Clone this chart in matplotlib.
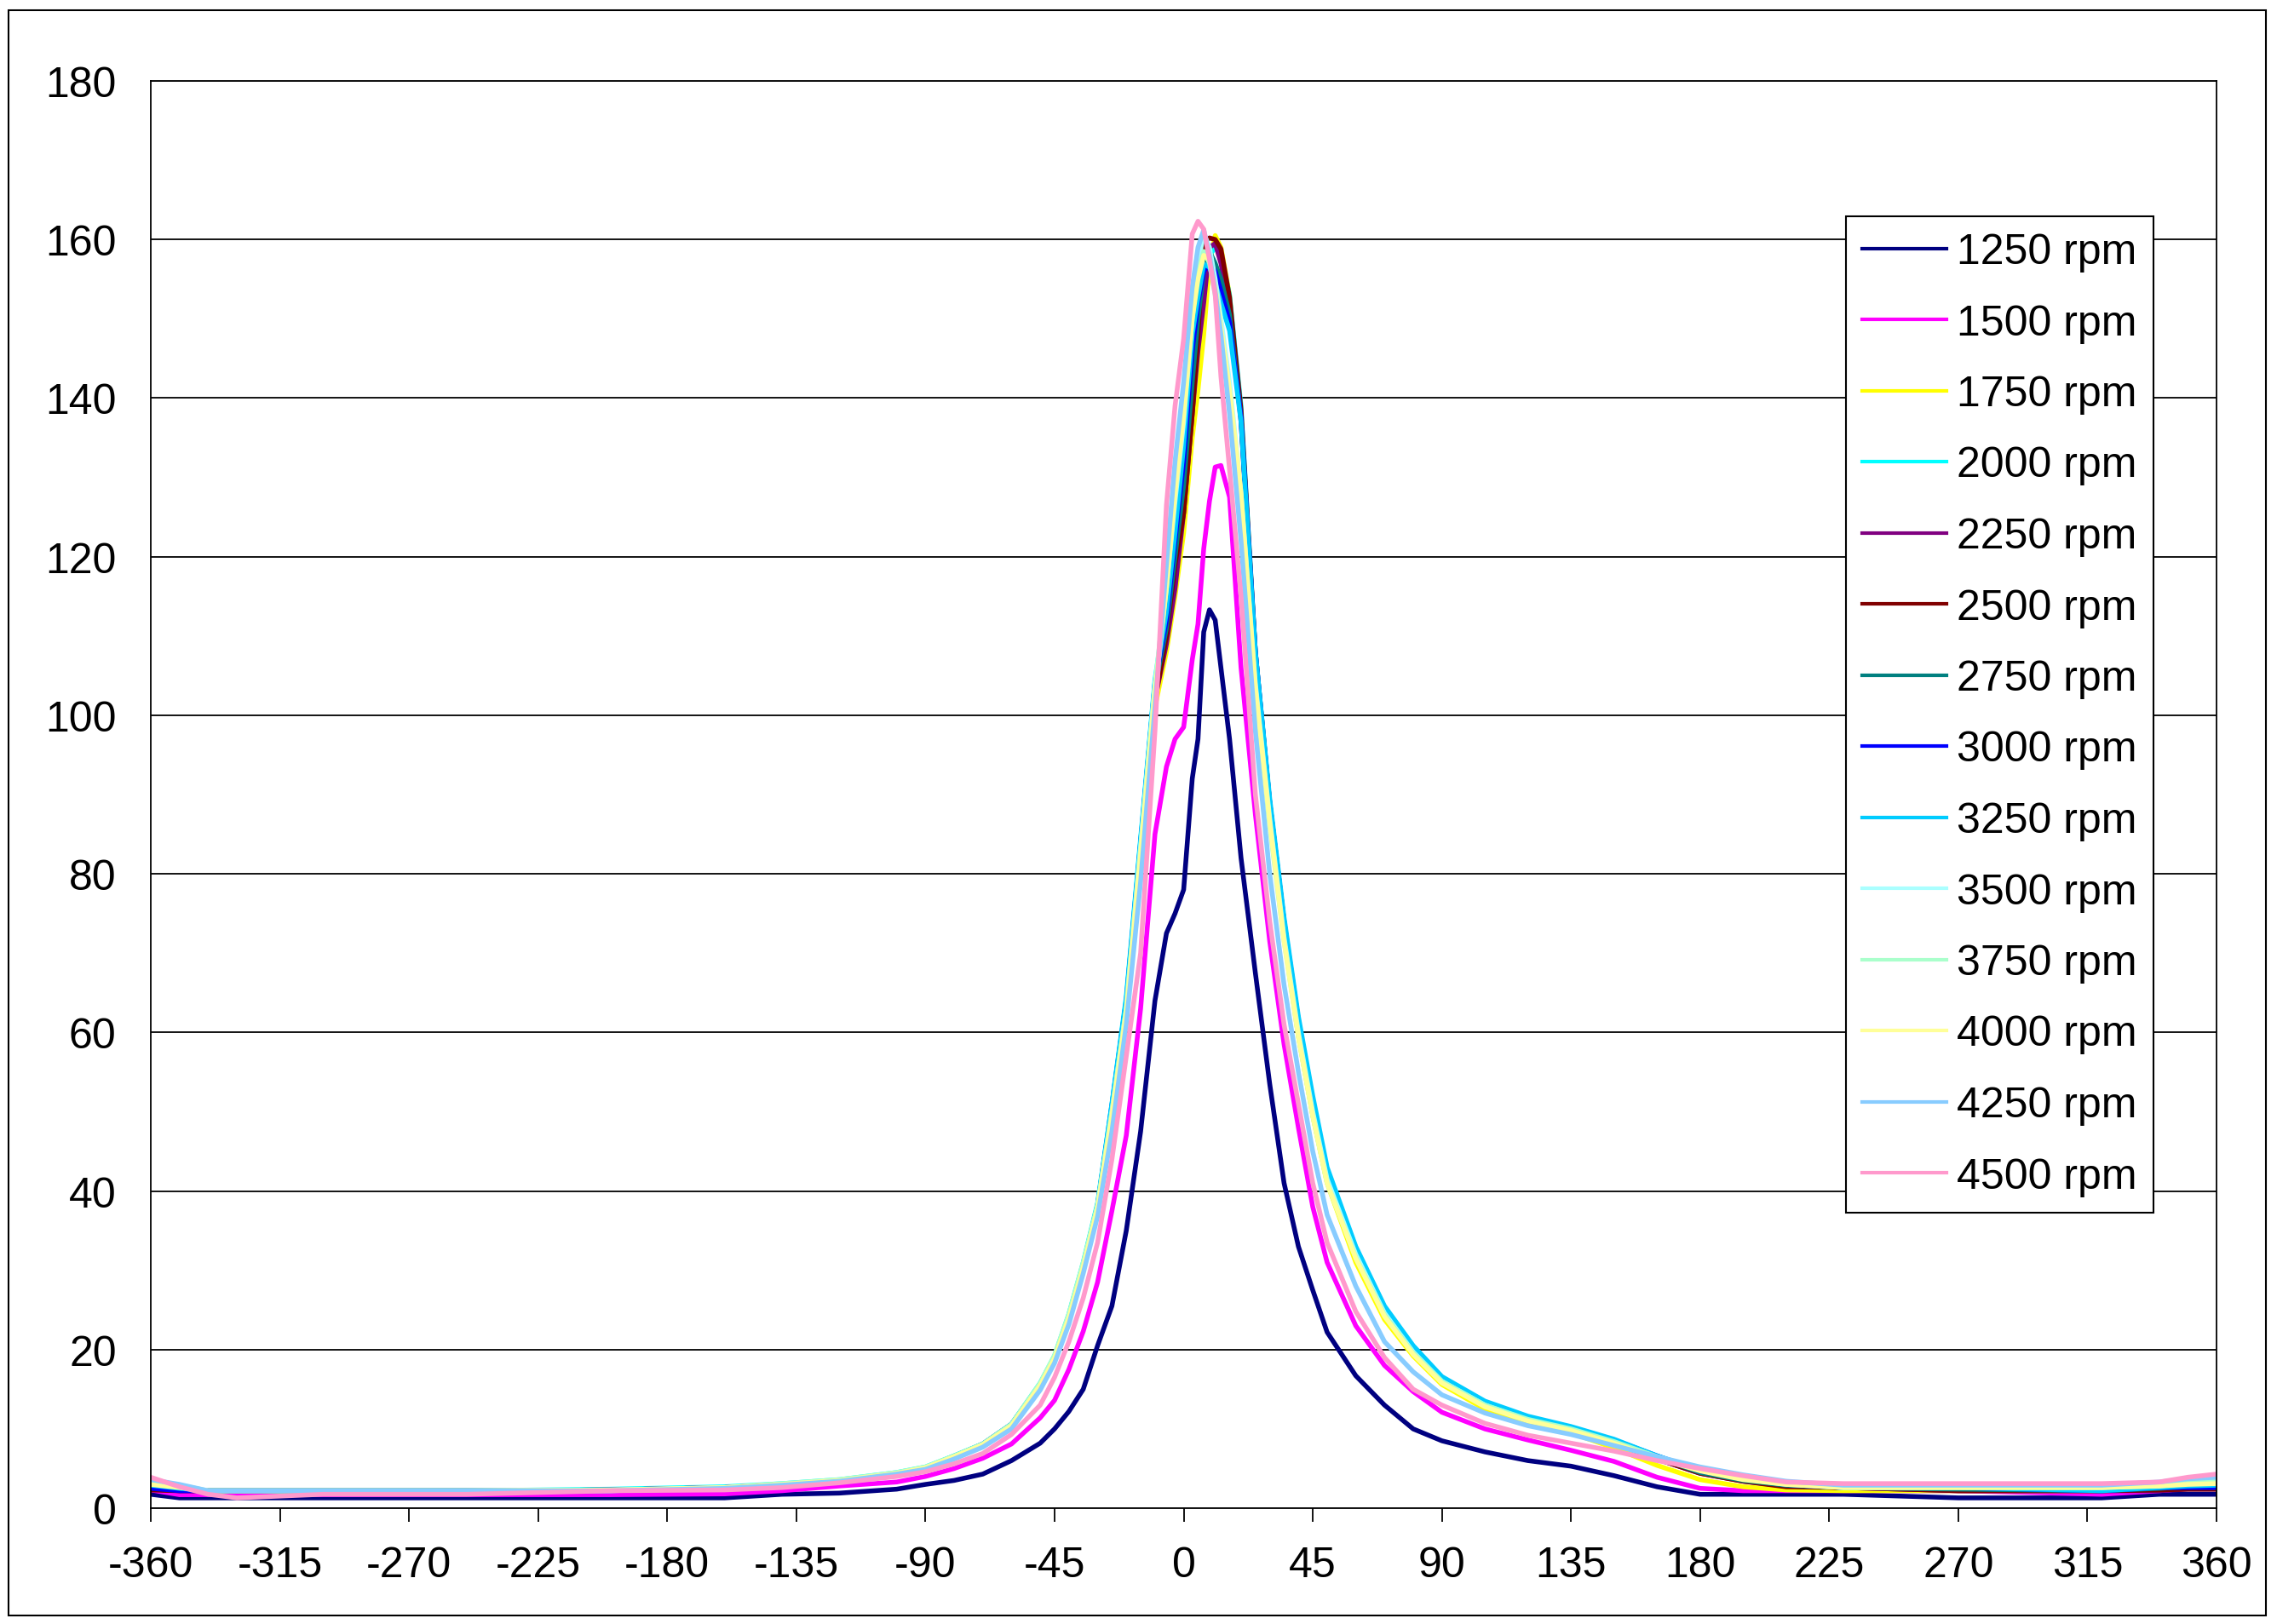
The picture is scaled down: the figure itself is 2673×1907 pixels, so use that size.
import matplotlib
matplotlib.use("Agg")
import matplotlib.pyplot as plt
from matplotlib.patches import Rectangle

plt.rcParams['font.family'] = ['Liberation Sans', 'DejaVu Sans']
plt.rcParams['axes.unicode_minus'] = False

# ---------------- data ----------------
angle_deg = [-360, -350, -340, -330, -300, -250, -200, -160, -140, -120,
             -100, -90, -80, -70, -60, -50, -45, -40, -35, -30,
             -25, -20, -15, -10, -6, -3, 0, 3, 5, 7,
             9, 11, 13, 16, 20, 25, 30, 35, 40, 45,
             50, 60, 70, 80, 90, 105, 120, 135, 150, 165,
             180, 195, 210, 230, 270, 320, 340, 350, 360]

rpm_1250 = [1.75, 1.3, 1.3, 1.3, 1.3, 1.3, 1.3, 1.3, 1.75, 1.9, 2.4, 3.0, 3.5, 4.3, 6.0, 8.2, 10.0, 12.2, 15.0, 20.5, 25.5, 35.0, 47.5, 64.0,
            72.5, 75.0, 78.0, 92.0, 97.0, 110.5, 113.3, 112.0, 106.0, 97.0, 82.0, 67.5,
            53.5, 41.0, 33.0, 27.5, 22.2, 16.7, 13.0, 10.0, 8.5, 7.1, 6.0, 5.3, 4.1, 2.7, 1.75, 1.75, 1.75, 1.75, 1.3, 1.3, 1.75, 1.75, 1.75]
rpm_1500 = [2.3, 1.7, 1.7, 1.7, 1.7, 1.7, 1.7, 1.8, 2.2, 2.8, 3.3, 4.0, 5.0, 6.3, 8.1, 11.4, 13.6, 17.5, 22.3, 28.5, 37.5, 47.0, 63.0, 85.0,
            93.5, 97.0, 98.5, 107.0, 111.5, 121.0, 127.0, 131.3, 131.5, 127.5, 106.0, 87.5,
            71.5, 58.5, 48.0, 38.0, 31.0, 23.0, 18.0, 14.7, 12.1, 10.0, 8.6, 7.3, 5.9, 3.9, 2.5, 2.2, 2.2, 2.2, 2.2, 1.75, 2.2, 2.5, 2.5]
rpm_1750 = [2.6, 2.3, 2.2, 2.2, 2.2, 2.2, 2.3, 2.6, 2.9, 3.4, 4.3, 5.0, 6.3, 7.8, 10.2, 15.2, 18.6, 23.8, 30.2, 37.5, 49.5, 62.5, 82.0, 101.0,
            108.0, 115.0, 123.0, 135.0, 141.0, 148.0, 157.0, 160.5, 159.0, 153.0, 138.0, 107.0,
            87.0, 72.0, 59.5, 49.5, 41.0, 31.0, 23.8, 19.2, 15.6, 12.5, 10.7, 9.5, 7.6, 5.4, 3.6, 2.7, 2.3, 2.2, 2.2, 2.2, 2.4, 2.5, 2.6]
rpm_2000 = [2.9, 2.4, 2.2, 2.2, 2.2, 2.2, 2.4, 2.7, 3.1, 3.6, 4.5, 5.2, 6.6, 8.1, 10.6, 15.8, 19.2, 24.5, 31.0, 38.5, 51.0, 64.5, 84.5, 104.5,
            114.0, 124.0, 133.0, 145.0, 150.0, 155.0, 158.0, 159.0, 158.0, 153.0, 139.0, 108.0,
            89.0, 74.0, 61.5, 51.5, 42.5, 32.8, 25.2, 20.2, 16.4, 13.3, 11.4, 10.2, 8.5, 6.5, 4.7, 3.7, 3.0, 2.6, 2.6, 2.6, 2.6, 2.8, 2.9]
rpm_2250 = [2.4, 2.2, 2.2, 2.2, 2.2, 2.2, 2.3, 2.6, 3.0, 3.5, 4.4, 5.1, 6.5, 8.1, 10.6, 15.6, 19.0, 24.2, 30.6, 38.0, 50.0, 63.0, 82.5, 102.0,
            109.0, 116.0, 125.5, 138.0, 146.0, 152.0, 159.0, 159.5, 157.0, 151.0, 137.0, 107.0,
            88.0, 73.0, 60.5, 50.5, 41.8, 32.2, 24.8, 19.8, 16.0, 12.9, 11.1, 9.9, 8.2, 6.2, 4.4, 3.4, 2.8, 2.6, 2.2, 2.2, 2.2, 2.4, 2.4]
rpm_2500 = [2.3, 2.2, 2.2, 2.2, 2.2, 2.2, 2.3, 2.6, 3.0, 3.5, 4.4, 5.1, 6.4, 8.0, 10.5, 15.5, 18.9, 24.0, 30.4, 37.8, 49.5, 62.5, 82.0, 102.0,
            110.0, 119.0, 125.5, 138.0, 148.0, 159.5, 160.2, 160.0, 158.8, 152.7, 138.5, 108.0,
            89.0, 74.0, 61.0, 51.0, 42.2, 32.5, 25.0, 20.0, 16.2, 13.0, 11.2, 10.0, 8.3, 6.2, 4.4, 3.4, 2.7, 2.6, 2.2, 2.2, 2.3, 2.4, 2.4]
rpm_2750 = [2.6, 2.3, 2.2, 2.2, 2.2, 2.2, 2.3, 2.6, 3.0, 3.5, 4.4, 5.1, 6.5, 8.0, 10.5, 15.6, 19.0, 24.2, 30.7, 38.0, 50.5, 63.5, 83.5, 103.5,
            111.0, 120.0, 129.0, 142.0, 150.0, 156.0, 158.5, 157.0, 155.0, 150.5, 137.5, 107.5,
            88.5, 73.5, 61.0, 51.0, 42.2, 32.6, 25.1, 20.1, 16.3, 13.2, 11.3, 10.1, 8.4, 6.4, 4.5, 3.5, 2.9, 2.6, 2.4, 2.2, 2.5, 2.7, 2.7]
rpm_3000 = [2.5, 2.2, 2.2, 2.2, 2.2, 2.2, 2.3, 2.6, 3.0, 3.5, 4.4, 5.1, 6.5, 8.0, 10.5, 15.6, 19.0, 24.2, 30.7, 38.2, 50.8, 64.0, 84.0, 104.0,
            112.0, 122.0, 132.0, 146.0, 152.0, 156.0, 157.0, 156.0, 153.5, 149.5, 137.5, 108.0,
            89.0, 74.0, 61.5, 51.5, 42.5, 32.8, 25.3, 20.3, 16.5, 13.4, 11.5, 10.2, 8.6, 6.6, 4.7, 3.7, 3.0, 2.6, 2.6, 2.2, 2.6, 2.6, 2.6]
rpm_3250 = [2.9, 2.5, 2.2, 2.2, 2.2, 2.2, 2.3, 2.6, 3.0, 3.5, 4.4, 5.1, 6.6, 8.1, 10.6, 15.7, 19.1, 24.3, 30.8, 38.3, 51.0, 64.2, 84.2, 104.2,
            113.0, 123.0, 134.0, 148.0, 152.7, 156.9, 156.5, 154.5, 152.0, 148.5, 137.0, 108.0,
            89.5, 74.5, 62.0, 52.0, 43.0, 33.0, 25.5, 20.5, 16.6, 13.5, 11.6, 10.3, 8.7, 6.6, 4.8, 3.8, 3.1, 2.6, 2.6, 2.2, 2.6, 2.8, 2.9]
rpm_3500 = [3.2, 2.7, 2.2, 2.2, 2.2, 2.2, 2.3, 2.6, 3.0, 3.5, 4.4, 5.1, 6.5, 8.0, 10.5, 15.6, 19.0, 24.2, 30.7, 38.0, 50.0, 63.0, 83.5, 104.0,
            116.0, 127.0, 137.0, 150.0, 157.0, 160.8, 159.0, 155.0, 150.0, 142.0, 128.0, 104.0,
            87.0, 72.0, 60.0, 50.0, 41.5, 32.0, 24.6, 19.7, 16.0, 13.0, 11.1, 9.9, 8.3, 6.4, 4.8, 3.7, 3.0, 2.6, 2.6, 2.6, 2.8, 3.1, 3.3]
rpm_3750 = [3.4, 2.9, 2.2, 2.2, 2.2, 2.2, 2.2, 2.6, 3.1, 3.6, 4.5, 5.2, 6.6, 8.1, 10.6, 15.8, 19.3, 24.5, 31.0, 38.3, 50.0, 63.0, 83.0, 103.5,
            117.0, 129.0, 139.0, 151.0, 156.0, 158.5, 157.0, 153.0, 148.0, 140.0, 127.0, 103.0,
            86.0, 71.5, 59.5, 49.5, 41.0, 31.6, 24.4, 19.6, 16.0, 13.0, 11.2, 10.0, 8.4, 6.5, 4.9, 3.8, 3.1, 2.6, 2.6, 2.6, 3.1, 3.5, 3.5]
rpm_4000 = [3.0, 2.6, 2.2, 2.2, 2.2, 2.2, 2.3, 2.6, 3.0, 3.5, 4.4, 5.1, 6.5, 8.0, 10.4, 15.5, 18.9, 24.0, 30.4, 37.8, 49.5, 62.5, 82.5, 103.0,
            116.0, 128.0, 138.0, 150.0, 155.0, 158.0, 157.5, 154.0, 149.0, 141.0, 128.0, 103.5,
            86.5, 71.5, 59.5, 49.5, 41.0, 31.5, 24.2, 19.4, 15.8, 12.8, 11.0, 9.8, 8.2, 6.3, 4.7, 3.6, 3.0, 2.6, 2.6, 2.6, 2.8, 3.0, 3.1]
rpm_4250 = [3.6, 3.0, 2.2, 2.2, 2.2, 2.2, 2.2, 2.5, 2.9, 3.4, 4.3, 4.9, 6.2, 7.7, 10.0, 14.9, 18.3, 23.2, 29.6, 36.8, 47.5, 61.0, 79.0, 101.0,
            119.0, 132.0, 142.0, 154.0, 159.0, 161.2, 158.0, 153.5, 148.0, 138.0, 122.0, 98.0,
            80.0, 66.0, 55.0, 45.0, 37.0, 28.0, 21.0, 17.2, 14.3, 12.0, 10.4, 9.3, 7.9, 6.5, 5.2, 4.2, 3.4, 2.9, 2.9, 2.9, 3.3, 3.7, 3.9]
rpm_4500 = [3.9, 2.7, 1.75, 1.3, 1.75, 1.75, 2.2, 2.3, 2.6, 3.2, 4.0, 4.6, 5.6, 6.9, 9.3, 13.0, 16.5, 21.0, 26.5, 33.5, 44.0, 57.0, 70.0, 98.0,
            126.5, 139.0, 147.5, 160.7, 162.3, 161.3, 157.5, 153.0, 142.7, 131.0, 115.0, 90.0,
            74.0, 61.0, 51.0, 41.0, 33.5, 24.8, 19.0, 15.0, 13.0, 10.7, 9.2, 8.2, 7.2, 6.0, 5.0, 4.1, 3.3, 3.1, 3.1, 3.1, 3.3, 3.9, 4.3]

series_labels = ["1250 rpm", "1500 rpm", "1750 rpm", "2000 rpm", "2250 rpm", "2500 rpm", "2750 rpm",
                 "3000 rpm", "3250 rpm", "3500 rpm", "3750 rpm", "4000 rpm", "4250 rpm", "4500 rpm"]
series_values = [rpm_1250, rpm_1500, rpm_1750, rpm_2000, rpm_2250, rpm_2500, rpm_2750,
                 rpm_3000, rpm_3250, rpm_3500, rpm_3750, rpm_4000, rpm_4250, rpm_4500]
series_colors = ["#000080", "#FF00FF", "#FFFF00", "#00FFFF", "#800080", "#800000", "#008080",
                 "#0000FF", "#00CCFF", "#AAFFFF", "#AAFFCC", "#FFFF99", "#88CCFF", "#FF99CC"]

x_ticks = list(range(-360, 361, 45))
y_ticks = list(range(0, 181, 20))

# ---------------- figure ----------------
W, H = 2673, 1908
fig = plt.figure(figsize=(W / 100, H / 100), dpi=100)
fig.patch.set_facecolor("white")

L, R, T, B = 177, 2602, 96, 1772
ax = fig.add_axes([L / W, 1 - B / H, (R - L) / W, (B - T) / H])

for lab, vals, col in zip(series_labels, series_values, series_colors):
    ax.plot(angle_deg, vals, color=col, lw=4.0, label=lab, solid_joinstyle="round")

ax.set_xlim(-360, 360)
ax.set_ylim(0, 180)
ax.set_xticks(x_ticks)
ax.set_yticks(y_ticks)
ax.set_xticklabels([str(v) for v in x_ticks])
ax.set_yticklabels([str(v) for v in y_ticks])
ax.yaxis.grid(True, color="black", lw=1.3)
ax.set_axisbelow(True)

ax.tick_params(axis="y", length=0, pad=29, labelsize=36)
ax.tick_params(axis="x", length=11.5, width=1.3, direction="out", pad=20, labelsize=36)
for s in ax.spines.values():
    s.set_color("black")
    s.set_linewidth(1.3)

leg = ax.legend(loc="upper left", bbox_to_anchor=(2167 / W, 1 - 255 / H),
                bbox_transform=fig.transFigure, fontsize=36, frameon=True,
                fancybox=False, shadow=False, framealpha=1, edgecolor="black",
                borderpad=0.38, labelspacing=0.75, handlelength=1.98, handletextpad=0.24,
                borderaxespad=0)
leg.get_frame().set_linewidth(1.5)
for ln in leg.get_lines():
    ln.set_linewidth(3.0)

fig.patches.append(Rectangle((10 / W, 1 - 1898 / H), 2650 / W, 1885 / H,
                             transform=fig.transFigure, fill=False,
                             edgecolor="black", lw=1.5))

fig.savefig("out.png", dpi=100)
